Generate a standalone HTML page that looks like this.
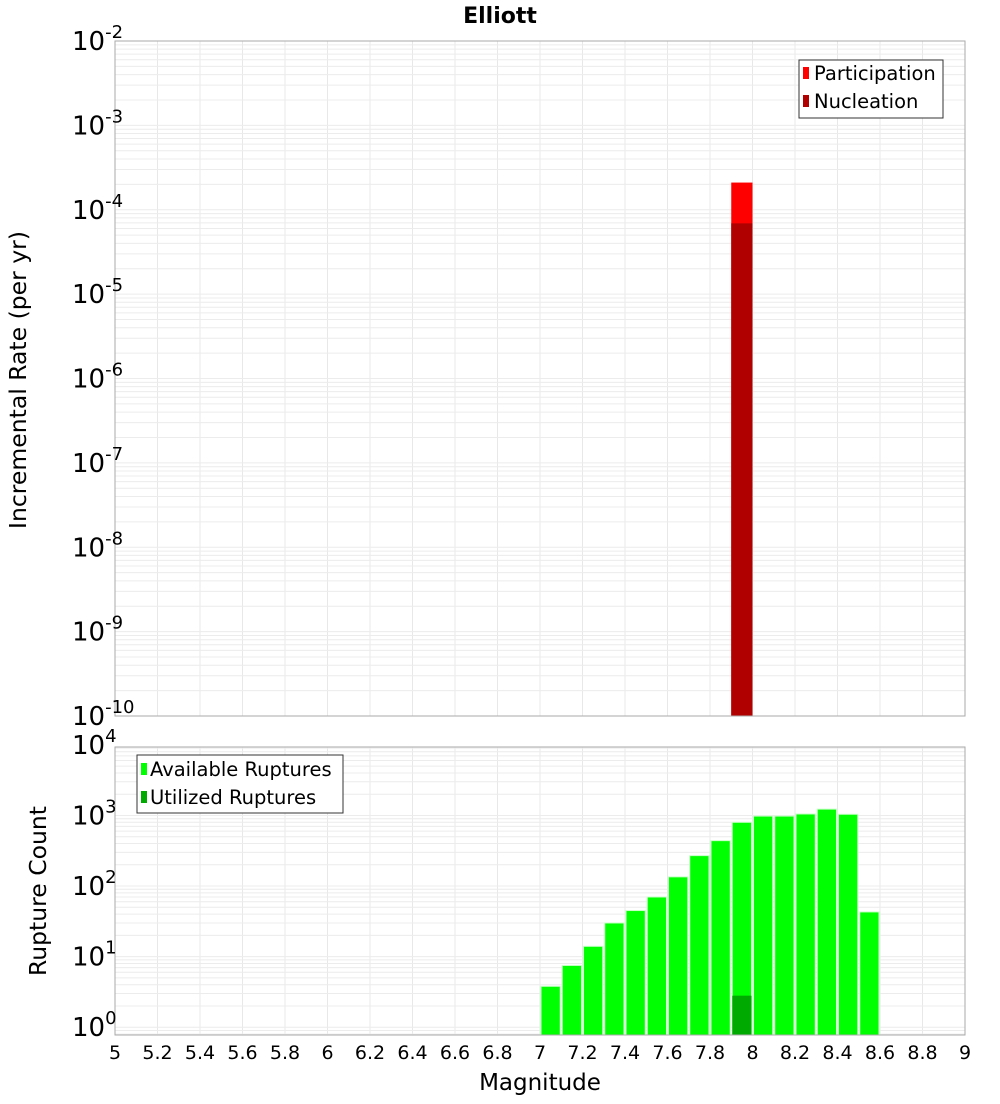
<!DOCTYPE html>
<html><head><meta charset="utf-8"><style>
body{margin:0;background:#fff;font-family:"DejaVu Sans","Liberation Sans",sans-serif}
</style></head><body>
<svg id="chart" width="1000" height="1100" xmlns="http://www.w3.org/2000/svg" font-family="DejaVu Sans, Liberation Sans, sans-serif">
<text x="500" y="23" text-anchor="middle" font-weight="bold" font-size="22">Elliott</text>
<g id="grid"></g>
<g id="bars"></g>
<g id="axes"></g>
<text transform="translate(26,380) rotate(-90)" text-anchor="middle" font-size="23.5">Incremental Rate (per yr)</text>
<text transform="translate(46,891) rotate(-90)" text-anchor="middle" font-size="23.5">Rupture Count</text>
<text x="540" y="1090" text-anchor="middle" font-size="23">Magnitude</text>
<g>
<rect x="799" y="60" width="144" height="58" fill="#fff" stroke="#333"/>
<rect x="803" y="67" width="6" height="12" fill="#ff0000"/>
<text x="814" y="80" font-size="19.5">Participation</text>
<rect x="803" y="95" width="6" height="12" fill="#b00000"/>
<text x="814" y="108" font-size="19.5">Nucleation</text>
</g>
<g>
<rect x="137" y="755" width="206" height="58" fill="#fff" stroke="#333"/>
<rect x="141" y="763" width="6" height="12" fill="#00ff00"/>
<text x="150" y="776" font-size="19.5">Available Ruptures</text>
<rect x="141" y="791" width="6" height="12" fill="#00aa00"/>
<text x="150" y="804" font-size="19.5">Utilized Ruptures</text>
</g>
</svg>
<script>
const magBins=[7.05,7.15,7.25,7.35,7.45,7.55,7.65,7.75,7.85,7.95,8.05,8.15,8.25,8.35,8.45,8.55];
const availableCounts=[3.8,7.5,14,30,45,70,135,270,440,800,980,980,1050,1230,1040,43];
const utilizedBins=[7.95];
const utilizedCounts=[2.8];
const rateBins=[7.95];
const participationRates=[2.1e-4];
const nucleationRates=[6.9e-5];
const xTicks=[5,5.2,5.4,5.6,5.8,6,6.2,6.4,6.6,6.8,7,7.2,7.4,7.6,7.8,8,8.2,8.4,8.6,8.8,9];
const topExp=[-10,-9,-8,-7,-6,-5,-4,-3,-2];
const botExp=[0,1,2,3,4];
const NS="http://www.w3.org/2000/svg";
const L=115,R=965,T1=41,B1=716,T2=747,B2=1035;
const x=m=>L+(m-5)/4*(R-L);
const y1=v=>B1-(Math.log10(v)+10)/8*(B1-T1);
const bLo=-0.11,bHi=3.97;
const y2=v=>B2-(Math.log10(v)-bLo)/(bHi-bLo)*(B2-T2);
function mk(p,tag,a){const e=document.createElementNS(NS,tag);for(const k in a)e.setAttribute(k,a[k]);document.getElementById(p).appendChild(e);return e;}
for(const t of xTicks){for(const [a,b] of [[T1,B1],[T2,B2]]){const e=mk('grid','line',{x1:x(t),x2:x(t),y1:a,y2:b,stroke:'#e8e8e8'});

}}
for(let d=-10;d<-2;d++)for(let k=1;k<10;k++){const e=mk('grid','line',{x1:L,x2:R,y1:y1(k*10**d),y2:y1(k*10**d),stroke:'#ececec'});

}
for(let d=-1;d<4;d++)for(let k=1;k<10;k++){const v=k*10**d;if(Math.log10(v)<bLo||Math.log10(v)>bHi)continue;const e=mk('grid','line',{x1:L,x2:R,y1:y2(v),y2:y2(v),stroke:'#ececec'});

}
rateBins.forEach((m,i)=>{
const p=mk('bars','rect',{x:x(m-0.05),width:x(m+0.05)-x(m-0.05),y:y1(participationRates[i]),height:B1-y1(participationRates[i]),fill:'#ff0000'});


const n=mk('bars','rect',{x:x(m-0.05),width:x(m+0.05)-x(m-0.05),y:y1(nucleationRates[i]),height:B1-y1(nucleationRates[i]),fill:'#b00000'});

});
magBins.forEach((m,i)=>{const b=mk('bars','rect',{x:x(m-0.05)+1,width:x(m+0.05)-x(m-0.05)-2,y:y2(availableCounts[i]),height:B2-y2(availableCounts[i]),fill:'#00ff00',stroke:'#c8ffc8','stroke-width':1});

});
utilizedBins.forEach((m,i)=>{const b=mk('bars','rect',{x:x(m-0.05)+1,width:x(m+0.05)-x(m-0.05)-2,y:y2(utilizedCounts[i]),height:B2-y2(utilizedCounts[i]),fill:'#00aa00'});

});
for(const [a,b] of [[T1,B1],[T2,B2]]){const f=mk('axes','rect',{x:L,y:a,width:R-L,height:b-a,fill:'none',stroke:'#aaa'});

}
for(const t of xTicks){const e=mk('axes','text',{x:x(t),y:1059,'text-anchor':'middle','font-size':19});e.textContent=String(t);

}
function expLabel(yy,ex,name){const e=mk('axes','text',{x:72,y:yy+9,'font-size':26});e.innerHTML='10<tspan dy="-12" font-size="18">'+ex+'</tspan>';

}
topExp.forEach(ex=>expLabel(y1(10**ex),ex,'top-y-tick-label'));
botExp.forEach(ex=>expLabel(y2(10**ex),ex,'bottom-y-tick-label'));
</script>
</body></html>
